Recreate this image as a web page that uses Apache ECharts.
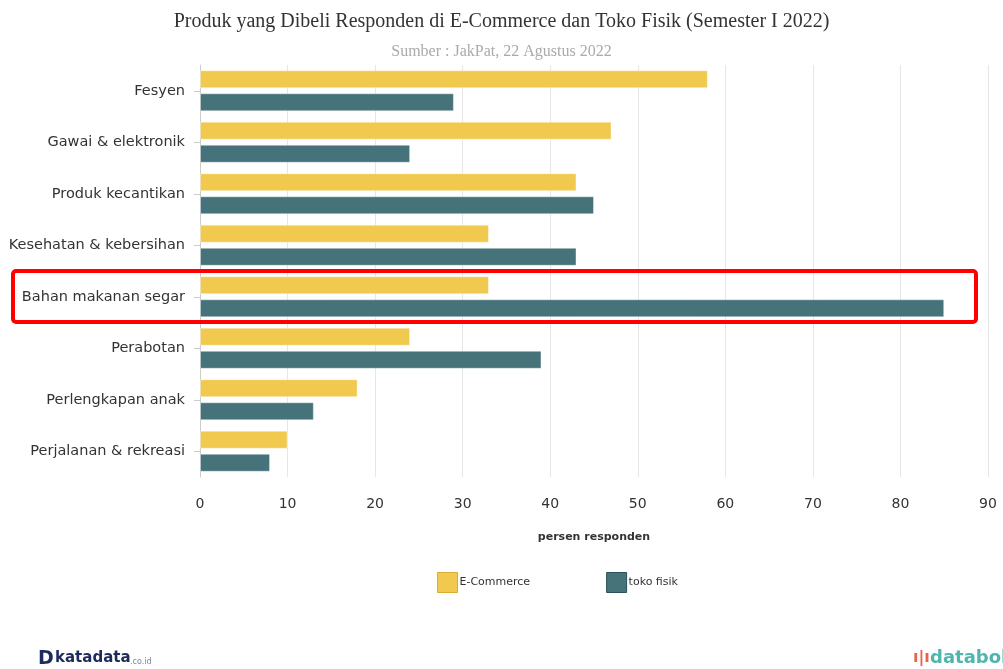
<!DOCTYPE html>
<html><head><meta charset="utf-8">
<script src="https://cdn.jsdelivr.net/npm/echarts@6/dist/echarts.min.js"></script>
<style>html,body{margin:0;padding:0;background:#fff}#c{width:1003px;height:669px}</style>
</head><body><div id="c"></div>
<script>
const categories = ["Fesyen","Gawai & elektronik","Produk kecantikan","Kesehatan & kebersihan","Bahan makanan segar","Perabotan","Perlengkapan anak","Perjalanan & rekreasi"];
const ecommerce = [58,47,43,33,33,24,18,10];
const tokoFisik = [29,24,45,43,85,39,13,8];
const xTicks = [0,10,20,30,40,50,60,70,80,90];

const chart = echarts.init(document.getElementById('c'), null, {renderer:'canvas'});
chart.setOption({
  animation:false,
  backgroundColor:'#fff',
  title:[{text:'Produk yang Dibeli Responden di E-Commerce dan Toko Fisik (Semester I 2022)',left:'center',top:7,
    textStyle:{fontFamily:'Liberation Serif',fontSize:20,fontWeight:'normal',color:'#333'}},
    {text:'Sumber : JakPat, 22 Agustus 2022',left:'center',top:39,
    textStyle:{fontFamily:'Liberation Serif',fontSize:16,fontWeight:'normal',color:'#aaa'}}],
  legend:{bottom:71,left:432,itemWidth:20,itemHeight:20,itemGap:76,icon:'rect',
    textStyle:{fontFamily:'DejaVu Sans',fontSize:11,color:'#333',padding:[0,0,0,-3]},
    data:[{name:'E-Commerce',itemStyle:{borderColor:'#d9ac2e',borderWidth:1}},{name:'toko fisik',itemStyle:{borderColor:'#2c5057',borderWidth:1}}]},
  grid:{left:200,right:15,top:65,bottom:192},
  xAxis:{type:'value',min:0,max:90,interval:10,
    axisLine:{show:false},axisTick:{show:false},
    splitLine:{lineStyle:{color:'#e6e6e6'}},
    axisLabel:{fontFamily:'DejaVu Sans',fontSize:14,color:'#333',margin:20,
      formatter:v=>xTicks.includes(v)?String(v):''},
    name:'persen responden',nameLocation:'middle',nameGap:55,
    nameTextStyle:{fontFamily:'DejaVu Sans',fontSize:11,fontWeight:'bold',color:'#333'}},
  yAxis:{type:'category',data:categories,inverse:true,
    axisLine:{show:true,lineStyle:{color:'#ccc'}},
    axisTick:{show:true,alignWithLabel:true,length:6,lineStyle:{color:'#ccc'}},
    axisLabel:{fontFamily:'DejaVu Sans',fontSize:14.5,color:'#333',margin:15,padding:[4,0,0,0]}},
  series:[
    {name:'E-Commerce',type:'bar',data:ecommerce,barWidth:18,barGap:'28%',
      itemStyle:{color:'#f2c94f',borderColor:'rgba(255,255,255,0.4)',borderWidth:1}},
    {name:'toko fisik',type:'bar',data:tokoFisik,barWidth:18,
      itemStyle:{color:'#46737a',borderColor:'rgba(255,255,255,0.4)',borderWidth:1}}
  ],
  graphic:[
    {type:'rect',shape:{x:13,y:271,width:963,height:51,r:3},style:{fill:'none',stroke:'#ff0000',lineWidth:4},z:100},
    {type:'text',left:38,top:650,style:{text:'D',font:'bold 19px DejaVu Sans',fill:'#1d2b5c'}},
    {type:'text',left:55,top:651,style:{text:'katadata',font:'bold 15px DejaVu Sans',fill:'#1d2b5c'}},
    {type:'text',left:130,top:658,style:{text:'.co.id',font:'8px DejaVu Sans',fill:'#7a86a8'}},
    {type:'text',left:913,top:650,style:{text:'ı|ı',font:'bold 16px DejaVu Sans',fill:'#e8654a'}},
    {type:'text',left:930,top:649,style:{text:'databoks',font:'bold 18px DejaVu Sans',fill:'#4fb5ad'}}
  ]
});
</script></body></html>
